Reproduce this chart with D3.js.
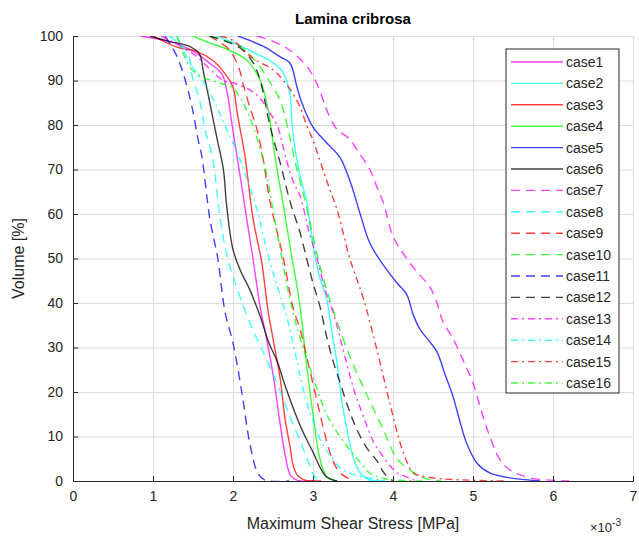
<!DOCTYPE html>
<html>
<head>
<meta charset="utf-8">
<script src="https://cdn.jsdelivr.net/npm/d3@7"></script>
<style>
  body { margin: 0; background: #fff; }
  svg { font-family: "Liberation Sans", Arial, sans-serif; }
  .grade line { stroke: #dcdcdc; }
  .grade path { display: none; }
  .eixo path, .eixo line { stroke: #262626; }
  .eixo text { fill: #262626; font-size: 14px; }
</style>
</head>
<body>
<svg id="grafico"></svg>
<script>
// valores: [tensao (x10^-3 MPa), volume %]
const nomes = ['case1','case2','case3','case4','case5','case6','case7','case8',
  'case9','case10','case11','case12','case13','case14','case15','case16']

const case1 = [[0.84,100],[1.1,99.2],[1.34,98],[1.55,96],[1.7,94],[1.86,91.5],[1.93,87],[1.98,81],[2.05,73],[2.12,65],[2.17,59],[2.25,50],[2.34,39],[2.42,32],[2.5,24],[2.58,14],[2.65,6],[2.72,1.2],[2.8,0.2],[3.0,0]]
const case2 = [[1.8,100],[2.0,98.5],[2.25,96.4],[2.5,94],[2.63,91.7],[2.71,87],[2.74,80],[2.8,72],[2.86,67],[2.92,63],[3.0,53],[3.08,46],[3.17,41],[3.24,33],[3.3,26.5],[3.36,18],[3.42,12],[3.5,5.5],[3.59,1.8],[3.7,0.3],[3.9,0]]
const case3 = [[1.0,100],[1.3,97.5],[1.55,96.5],[1.75,94.5],[1.88,92],[2.0,88.5],[2.05,83],[2.1,78],[2.15,73],[2.25,59],[2.36,49],[2.44,38],[2.5,32],[2.59,23],[2.65,14],[2.71,8],[2.76,3],[2.82,1],[2.9,0.2],[3.1,0]]
const case4 = [[1.5,100],[1.7,98.5],[1.89,97.3],[2.17,94.6],[2.34,90],[2.44,83.4],[2.5,76],[2.56,69],[2.63,62],[2.72,52],[2.84,39],[2.92,26],[3.0,15],[3.08,5.5],[3.17,1],[3.3,0]]
const case5 = [[2.06,100],[2.21,99],[2.4,97.5],[2.59,95.3],[2.71,94],[2.8,88.5],[2.86,85],[3.0,79.5],[3.17,76],[3.34,72.6],[3.47,67],[3.59,60],[3.71,53.5],[3.88,48.5],[4.05,44.5],[4.17,42],[4.25,37.5],[4.34,34],[4.45,31.5],[4.55,29],[4.65,24],[4.75,19],[4.85,12.5],[4.92,8.5],[5.05,4],[5.21,1.8],[5.46,0.7],[5.84,0]]
const case6 = [[0.96,100],[1.2,98.8],[1.45,97.7],[1.58,96],[1.63,92],[1.71,85],[1.8,77],[1.88,70],[1.92,62],[2.0,52],[2.1,47],[2.21,43],[2.34,37],[2.45,31],[2.55,27],[2.65,21.5],[2.75,16.5],[2.85,12],[2.93,9],[3.0,6.5],[3.09,3],[3.17,0.9],[3.3,0]]
const case7 = [[2.3,100],[2.5,98.8],[2.67,97.3],[2.8,95.5],[2.93,93],[3.03,90],[3.12,86],[3.17,83.4],[3.3,79],[3.45,77],[3.55,74.4],[3.71,70],[3.8,66],[3.88,62.5],[4.0,55],[4.17,50],[4.3,47],[4.46,43.6],[4.55,40],[4.62,36],[4.75,32],[4.88,27],[5.0,22],[5.1,16],[5.21,10],[5.33,5],[5.46,2.5],[5.71,0.7],[6.2,0]]
const case8 = [[1.2,100],[1.35,98],[1.44,96],[1.49,91],[1.59,85],[1.65,79],[1.74,73],[1.84,59],[1.92,51],[2.0,46],[2.2,36],[2.4,28],[2.55,22],[2.7,15],[2.85,8.5],[2.95,4],[3.02,1],[3.1,0]]
const case9 = [[1.7,100],[1.95,97],[2.07,93],[2.13,89],[2.21,84],[2.3,79],[2.38,72],[2.46,63],[2.55,56],[2.63,50],[2.75,39],[2.84,34],[2.92,28],[3.05,18],[3.17,9],[3.25,4.5],[3.34,1.8],[3.5,0]]
const case10 = [[1.7,100],[2.1,97.5],[2.3,94],[2.45,90],[2.6,85],[2.7,78],[2.8,70],[2.9,63],[3.0,55],[3.09,48],[3.25,38.5],[3.46,28],[3.67,19.5],[3.88,11.5],[4.05,5],[4.25,2],[4.42,0.5],[4.6,0]]
const case11 = [[1.15,100],[1.22,98],[1.31,95],[1.42,89],[1.5,83],[1.56,77],[1.61,73],[1.71,59],[1.81,50],[1.9,38],[2.0,31],[2.11,20],[2.21,8.5],[2.31,1.8],[2.4,0.2],[2.7,0]]
const case12 = [[1.71,100],[2.09,97.3],[2.25,94],[2.34,90],[2.46,80],[2.55,74],[2.59,71.5],[2.71,63],[2.84,55.7],[2.92,50],[3.0,44.5],[3.09,39],[3.17,32.5],[3.25,27],[3.34,22],[3.45,16],[3.55,11.5],[3.67,7.5],[3.8,4.5],[3.9,1.5],[4.0,0]]
const case13 = [[1.1,100],[1.5,96],[1.88,90],[2.0,89.5],[2.2,88],[2.34,86],[2.45,83],[2.55,80],[2.67,72],[2.76,67],[2.84,64],[2.95,56],[3.05,50],[3.15,43],[3.25,38],[3.42,26.5],[3.52,20],[3.63,14.5],[3.75,9],[3.88,5.4],[4.05,1.8],[4.13,1.2],[4.3,0]]
const case14 = [[1.3,100],[1.46,94],[1.67,88.5],[1.8,84],[1.92,79],[2.05,74],[2.15,69],[2.3,61],[2.42,52],[2.55,44],[2.67,37],[2.8,27],[2.9,19],[3.0,13.5],[3.1,9],[3.2,6],[3.34,3],[3.5,1.5],[3.67,0.8],[3.9,0]]
const case15 = [[1.84,100],[2.0,99],[2.25,95],[2.5,92.4],[2.63,90],[2.75,87],[2.84,84],[2.92,80],[3.0,76.6],[3.05,74],[3.18,67],[3.3,61],[3.46,50],[3.63,41],[3.8,29.4],[3.96,17.5],[4.09,8.5],[4.17,4.5],[4.25,1.8],[4.34,1.2],[4.6,0.5],[5.4,0]]
const case16 = [[1.3,100],[1.46,93],[1.59,91],[1.84,89.4],[2.0,88.3],[2.17,83.4],[2.3,77],[2.42,69],[2.48,63],[2.59,52],[2.71,41],[2.84,32],[2.96,25.5],[3.17,15],[3.3,11],[3.46,7],[3.6,4],[3.71,1.8],[3.9,0.5],[4.4,0]]

const series = [case1,case2,case3,case4,case5,case6,case7,case8,case9,case10,case11,case12,case13,case14,case15,case16]
const ticksX = [0,1,2,3,4,5,6,7]
const ticksY = [0,10,20,30,40,50,60,70,80,90,100]

// estilos (cor MATLAB e tipo de linha)
const cores = ['#ff00ff','#00ffff','#ff0000','#00ff00','#0000ff','#000000']
const tracos = ['none', '9,6', '7,4,2,4']

let largura = 639, altura = 538
let svg = d3.select('#grafico').attr('width', largura).attr('height', altura)

let margens = {esquerda: 73, direita: 6, superior: 36, inferior: 57}
let lp = largura - margens.esquerda - margens.direita
let ap = altura - margens.superior - margens.inferior

let plot = svg.append('g').attr('transform', 'translate(' + margens.esquerda + ',' + margens.superior + ')')

let fnX = d3.scaleLinear().domain([0, 7]).range([0, lp])
let fnY = d3.scaleLinear().domain([0, 100]).range([ap, 0])

// grade
plot.append('g').attr('class', 'grade')
  .call(d3.axisBottom(fnX).tickValues(ticksX).tickSize(ap).tickFormat(''))
plot.append('g').attr('class', 'grade')
  .call(d3.axisRight(fnY).tickValues(ticksY).tickSize(lp).tickFormat(''))

let linha = d3.line()
  .x(d => fnX(d[0]))
  .y(d => fnY(d[1]))
  .curve(d3.curveCatmullRom.alpha(0.5))

let clip = plot.append('clipPath').attr('id', 'corte')
clip.append('rect').attr('width', lp).attr('height', ap + 1)

plot.append('g').attr('clip-path', 'url(#corte)')
  .selectAll('.curva').data(series).enter().append('path')
  .attr('class', 'curva')
  .attr('d', d => linha(d))
  .attr('fill', 'none')
  .attr('stroke', (d, i) => cores[i % 6])
  .attr('stroke-opacity', 0.75)
  .attr('stroke-width', 1.4)
  .attr('stroke-dasharray', (d, i) => tracos[Math.floor(i / 6)])

// eixos
plot.append('g').attr('class', 'eixo')
  .attr('transform', 'translate(0,' + ap + ')')
  .call(d3.axisBottom(fnX).tickValues(ticksX).tickFormat(d3.format('d'))
    .tickSizeInner(-5).tickSizeOuter(0).tickPadding(10))
plot.append('g').attr('class', 'eixo')
  .call(d3.axisLeft(fnY).tickValues(ticksY).tickFormat(d3.format('d'))
    .tickSizeInner(-5).tickSizeOuter(0).tickPadding(10))

// titulos
svg.append('text')
  .attr('x', margens.esquerda + lp / 2).attr('y', 24)
  .attr('text-anchor', 'middle')
  .style('font-size', '15px').style('font-weight', 'bold').style('fill', '#000')
  .text('Lamina cribrosa')

svg.append('text')
  .attr('x', margens.esquerda + lp / 2).attr('y', 529)
  .attr('text-anchor', 'middle')
  .style('font-size', '16px').style('fill', '#262626')
  .text('Maximum Shear Stress [MPa]')

svg.append('text')
  .attr('transform', 'translate(24,' + (margens.superior + ap / 2) + ') rotate(-90)')
  .attr('text-anchor', 'middle')
  .style('font-size', '16px').style('fill', '#262626')
  .text('Volume [%]')

let expo = svg.append('text')
  .attr('x', 590).attr('y', 532)
  .style('font-size', '13px').style('fill', '#262626')
expo.append('tspan').text('×10')
expo.append('tspan').attr('dy', -6).style('font-size', '10px').text('-3')

// legenda
let leg = svg.append('g').attr('transform', 'translate(506,49)')
leg.append('rect').attr('width', 113).attr('height', 344)
  .attr('fill', '#fff').attr('stroke', '#262626').attr('stroke-width', 1)

let itens = leg.selectAll('.item').data(nomes).enter().append('g')
  .attr('class', 'item')
  .attr('transform', (d, i) => 'translate(0,' + (13 + i * 21.4) + ')')
itens.append('line')
  .attr('x1', 5).attr('x2', 57)
  .attr('stroke', (d, i) => cores[i % 6])
  .attr('stroke-opacity', 0.75)
  .attr('stroke-width', 1.4)
  .attr('stroke-dasharray', (d, i) => tracos[Math.floor(i / 6)])
itens.append('text')
  .attr('x', 60).attr('dy', '0.35em')
  .style('font-size', '14px').style('fill', '#262626')
  .text(d => d)
</script>
</body>
</html>
